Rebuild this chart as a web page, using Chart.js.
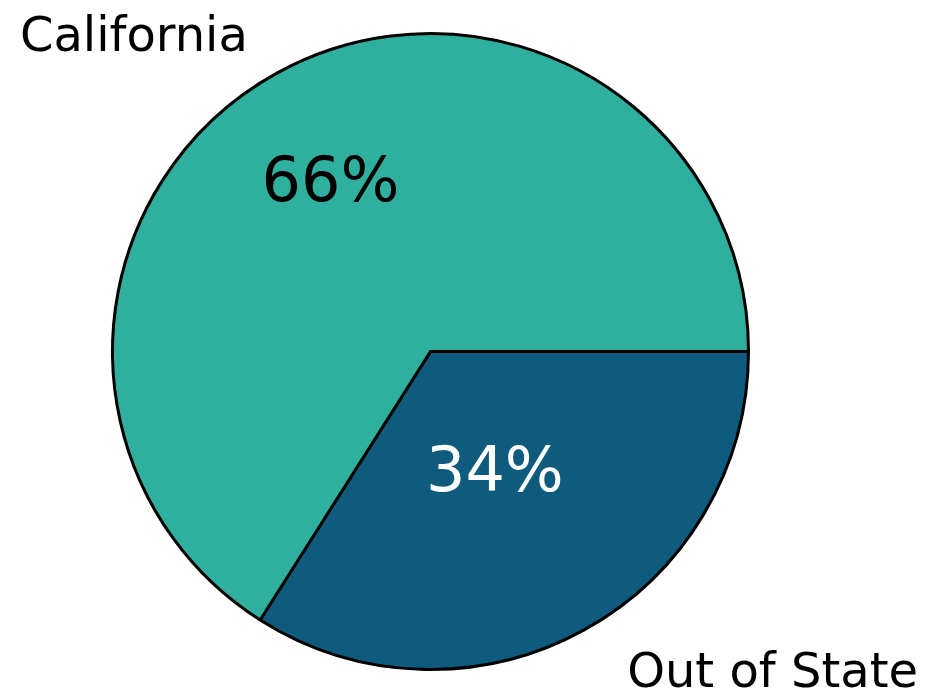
<!DOCTYPE html>
<html>
<head>
<meta charset="utf-8">
<script src="https://cdn.jsdelivr.net/npm/chart.js@4"></script>
<style>
  html, body { margin: 0; padding: 0; background: #fff; }
  #wrap { width: 939px; height: 690px; }
</style>
</head>
<body>
<div id="wrap"><canvas id="pieChart"></canvas></div>
<script>
// drawn clockwise from 3 o'clock, so Out of State comes first
const categories = ["Out of State", "California"];
const shares = [34, 66];
const pctLabels = ["34%", "66%"];

const sliceColors = ["#0f5b7e", "#2fb09f"];
const pctColors = ["#ffffff", "#000000"];
// how far out the % text sits, per slice (fraction of radius)
const pctDistance = { "Out of State": 0.42, "California": 0.62 };

const pieLabels = {
  id: "pieLabels",
  afterDraw(chart) {
    const ctx = chart.ctx;
    const meta = chart.getDatasetMeta(0);
    ctx.save();
    meta.data.forEach((arc, i) => {
      const p = arc.getProps(["x", "y", "startAngle", "endAngle", "outerRadius"], true);
      const mid = (p.startAngle + p.endAngle) / 2;
      const cos = Math.cos(mid), sin = Math.sin(mid);

      // outside category label
      const fs = 48;
      ctx.font = fs + "px 'DejaVu Sans'";
      ctx.fillStyle = "#000";
      ctx.textBaseline = "alphabetic";
      ctx.textAlign = cos < 0 ? "right" : "left";
      const r1 = p.outerRadius * 1.14;
      const lx = p.x + r1 * cos + (cos < 0 ? -15 : 15) + 7;
      const ly = p.y + r1 * sin + fs * 0.365;
      ctx.fillText(categories[i], lx, ly);

      // percentage inside
      const ps = 62;
      ctx.font = ps + "px 'DejaVu Sans'";
      ctx.fillStyle = pctColors[i];
      ctx.textAlign = "center";
      const r2 = p.outerRadius * pctDistance[categories[i]];
      ctx.fillText(pctLabels[i], p.x + r2 * cos - (cos < 0 ? 5 : 0), p.y + r2 * sin + ps * 0.365);
    });
    ctx.restore();
  }
};

new Chart(document.getElementById("pieChart").getContext("2d"), {
  type: "pie",
  data: {
    labels: categories,
    datasets: [{
      data: shares,
      backgroundColor: sliceColors,
      borderColor: "#000000",
      borderWidth: 3,
      borderJoinStyle: "miter",
    }],
  },
  options: {
    responsive: true,
    maintainAspectRatio: false,
    animation: false,
    rotation: 90,
    layout: { padding: { left: 111, right: 189, top: 32, bottom: 19 } },
    plugins: {
      legend: { display: false },
      tooltip: { enabled: false },
    },
  },
  plugins: [pieLabels],
});
</script>
</body>
</html>
